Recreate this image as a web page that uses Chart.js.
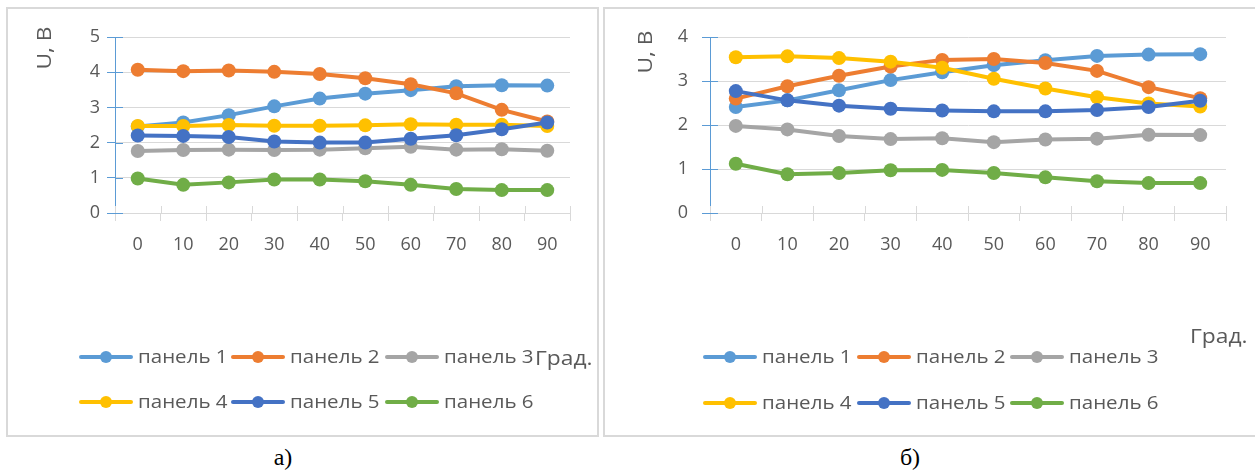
<!DOCTYPE html>
<html>
<head>
<meta charset="utf-8">
<script src="https://cdn.jsdelivr.net/npm/chart.js@4.4.1/dist/chart.umd.min.js"></script>
<style>
  html, body { margin: 0; padding: 0; background: #fff; }
  body { width: 1255px; height: 470px; position: relative; overflow: hidden; }
  .box { position: absolute; top: 7px; height: 430px; border: 2px solid #d9d9d9; box-sizing: border-box; background: #fff; }
  .box canvas { position: absolute; left: 0; top: 0; }
  .cap { position: absolute; font-family: 'Liberation Serif', 'Times New Roman', serif; font-size: 24px; color: #000;
         transform: translate(-50%, -50%); line-height: 1; }
</style>
</head>
<body>
<div class="box" style="left:6px;width:593px;"><canvas id="chartA" width="589" height="426"></canvas></div>
<div class="box" style="left:603px;width:655px;"><canvas id="chartB" width="651" height="426"></canvas></div>
<div class="cap" style="left:283px;top:457px;">а)</div>
<div class="cap" style="left:910px;top:457px;">б)</div>

<script>
// Angle of the panels, degrees
const angles = ['0', '10', '20', '30', '40', '50', '60', '70', '80', '90'];
const seriesNames = ['панель 1', 'панель 2', 'панель 3', 'панель 4', 'панель 5', 'панель 6'];
const seriesColors = ['#5B9BD5', '#ED7D31', '#A5A5A5', '#FFC000', '#4472C4', '#70AD47'];

// Voltage U, V — case а)
const panel1A = [2.46, 2.57, 2.78, 3.03, 3.25, 3.39, 3.49, 3.60, 3.63, 3.62];
const panel2A = [4.07, 4.03, 4.05, 4.01, 3.95, 3.83, 3.66, 3.40, 2.93, 2.60];
const panel3A = [1.76, 1.79, 1.80, 1.79, 1.80, 1.84, 1.88, 1.80, 1.81, 1.77];
const panel4A = [2.47, 2.47, 2.50, 2.48, 2.48, 2.49, 2.52, 2.51, 2.51, 2.47];
const panel5A = [2.20, 2.19, 2.16, 2.03, 2.00, 2.00, 2.11, 2.21, 2.38, 2.57];
const panel6A = [0.98, 0.80, 0.87, 0.95, 0.95, 0.90, 0.80, 0.68, 0.65, 0.65];

// Voltage U, V — case б)
const panel1B = [2.41, 2.56, 2.79, 3.02, 3.20, 3.36, 3.47, 3.57, 3.60, 3.61];
const panel2B = [2.60, 2.88, 3.12, 3.33, 3.48, 3.50, 3.41, 3.23, 2.86, 2.61];
const panel3B = [1.98, 1.90, 1.75, 1.68, 1.70, 1.61, 1.67, 1.69, 1.78, 1.77];
const panel4B = [3.54, 3.56, 3.52, 3.44, 3.30, 3.05, 2.83, 2.63, 2.49, 2.42];
const panel5B = [2.77, 2.56, 2.44, 2.37, 2.33, 2.31, 2.31, 2.34, 2.41, 2.55];
const panel6B = [1.12, 0.88, 0.91, 0.97, 0.98, 0.91, 0.81, 0.72, 0.68, 0.68];

const yTicksA = { max: 5, step: 1 };
const yTicksB = { max: 4, step: 1 };

const FONT = "'Open Sans', 'Liberation Sans', sans-serif";
const TEXT = '#595959';
const STRETCH = 1.14;   // slightly widened lettering for legend and axis titles
Chart.defaults.font.family = FONT;
Chart.defaults.color = TEXT;

function buildDatasets(values) {
  return values.map((v, i) => ({
    label: seriesNames[i],
    data: v,
    borderColor: seriesColors[i],
    backgroundColor: seriesColors[i],
    pointBackgroundColor: seriesColors[i],
    pointBorderColor: seriesColors[i],
    borderWidth: 4,
    pointRadius: 7,
    pointBorderWidth: 0,
    tension: 0,
    order: values.length - i   // later series drawn above earlier ones
  }));
}

function wideText(ctx, text, x, y, angle) {
  ctx.save();
  ctx.translate(x, y);
  if (angle) ctx.rotate(angle);
  ctx.scale(STRETCH, 1);
  ctx.fillText(text, 0, 0);
  ctx.restore();
}

// Axis titles, inner tick marks and a two-row legend
function decor(cfg) {
  return {
    id: 'decor',
    afterDraw(chart) {
      const ctx = chart.ctx;
      const area = chart.chartArea;
      const ys = chart.scales.y;
      ctx.save();

      // tick marks crossing the axes
      ctx.lineWidth = 1;
      ctx.strokeStyle = '#5B9BD5';
      ys.ticks.forEach(t => {
        const py = Math.round(ys.getPixelForValue(t.value)) + 0.5;
        ctx.beginPath(); ctx.moveTo(area.left, py); ctx.lineTo(area.left + 8, py); ctx.stroke();
      });
      ctx.strokeStyle = '#d9d9d9';
      const n = chart.data.labels.length;
      for (let i = 0; i <= n; i++) {
        const px = Math.round(area.left + i * (area.right - area.left) / n) + 0.5;
        ctx.beginPath(); ctx.moveTo(px, area.bottom - 7); ctx.lineTo(px, area.bottom); ctx.stroke();
      }

      ctx.fillStyle = TEXT;
      ctx.textBaseline = 'middle';

      // y title
      ctx.font = `20px ${FONT}`;
      ctx.textAlign = 'center';
      wideText(ctx, 'U, В', cfg.yTitle.x, cfg.yTitle.y, -Math.PI / 2);

      // legend
      ctx.font = `18px ${FONT}`;
      ctx.textAlign = 'left';
      chart.data.datasets.forEach((ds, i) => {
        const x0 = cfg.legend.cols[i % 3];
        const y0 = cfg.legend.rows[Math.floor(i / 3)];
        ctx.strokeStyle = ds.borderColor;
        ctx.lineWidth = 4;
        ctx.lineCap = 'round';
        ctx.beginPath(); ctx.moveTo(x0, y0); ctx.lineTo(x0 + 50, y0); ctx.stroke();
        ctx.fillStyle = ds.borderColor;
        ctx.beginPath(); ctx.arc(x0 + 25, y0, 6, 0, Math.PI * 2); ctx.fill();
        ctx.fillStyle = TEXT;
        wideText(ctx, ds.label, x0 + 57, y0 + 1);
      });

      // x title
      ctx.font = `20px ${FONT}`;
      wideText(ctx, 'Град.', cfg.xTitle.x, cfg.xTitle.y);
      ctx.restore();
    }
  };
}

function makeChart(id, values, yt, g) {
  new Chart(document.getElementById(id), {
    type: 'line',
    data: { labels: angles, datasets: buildDatasets(values) },
    options: {
      responsive: false,
      animation: false,
      events: [],
      layout: { padding: { left: 0, right: g.padRight, top: g.padTop, bottom: g.padBottom } },
      plugins: { legend: { display: false }, tooltip: { enabled: false } },
      scales: {
        x: {
          type: 'category',
          offset: true,
          grid: { display: true, offset: true, drawOnChartArea: false, drawTicks: true, tickLength: 8, color: '#d9d9d9' },
          border: { display: true, color: '#d9d9d9', width: 1 },
          ticks: { color: TEXT, font: { size: 18 }, padding: 13, maxRotation: 0, autoSkip: false },
          afterFit(s) { s.height = 40; }
        },
        y: {
          min: 0, max: yt.max,
          ticks: { stepSize: yt.step, color: TEXT, font: { size: 18 }, padding: g.tickPad },
          grid: { color: '#d9d9d9', tickColor: '#5B9BD5', tickLength: 8, lineWidth: 1 },
          border: { display: true, color: '#5B9BD5', width: 1 },
          afterFit(s) { s.width = g.yWidth; }
        }
      }
    },
    plugins: [decor(g)]
  });
}

makeChart('chartA', [panel1A, panel2A, panel3A, panel4A, panel5A, panel6A], yTicksA, {
  yWidth: 107, padRight: 27, padTop: 28, padBottom: 182, tickPad: 7,
  yTitle: { x: 37, y: 39 },
  xTitle: { x: 527, y: 350 },
  legend: { cols: [73, 225, 379], rows: [348, 393] }
});

makeChart('chartB', [panel1B, panel2B, panel3B, panel4B, panel5B, panel6B], yTicksB, {
  yWidth: 105, padRight: 30, padTop: 28, padBottom: 182, tickPad: 14,
  yTitle: { x: 41, y: 43 },
  xTitle: { x: 585, y: 328 },
  legend: { cols: [100, 254, 407], rows: [348, 394] }
});
</script>
</body>
</html>
